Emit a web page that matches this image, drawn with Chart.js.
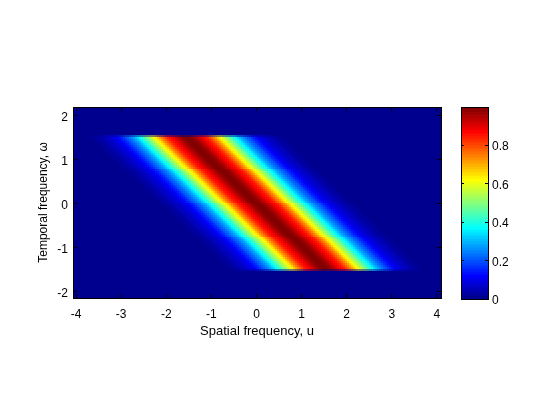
<!DOCTYPE html>
<html>
<head>
<meta charset="utf-8">
<title>Spatial / temporal frequency</title>
<script src="https://cdn.jsdelivr.net/npm/chart.js@4/dist/chart.umd.min.js"></script>
<style>
  html, body { margin: 0; padding: 0; background: #fff; }
  #wrap { position: relative; width: 560px; height: 420px; overflow: hidden; }
  canvas { position: absolute; left: 0; top: 0; }
</style>
</head>
<body>
<div id="wrap">
  <canvas id="heat" width="560" height="420"></canvas>
  <canvas id="cbar" width="560" height="420"></canvas>
</div>
<script>
// ---------- data ----------
const xTicks = [-4, -3, -2, -1, 0, 1, 2, 3, 4];
const yTicks = [-2, -1, 0, 1, 2];
const cbarTicks = [0, 0.2, 0.4, 0.6, 0.8];
const xLabel = 'Spatial frequency, u';
const yLabel = 'Temporal frequency, \u03c9';

const xRange = [-4.069, 4.091];
const yRange = [-2.148, 2.193];
const cbarRange = [0, 0.998];

const nCols = 184;
const nRows = 96;
const firstBandRow = 14; // rows counted from the top, outside the band everything is 0
const edgeFade = 0.5;    // first and last band rows are soft in the picture

// column of the ridge on each row of the band
const ridgeColumn = [
  56, 57, 58, 59, 60, 61, 62, 63, 64, 65, 66, 67, 68, 69, 70, 71, 72,
  74, 75, 76, 77, 78, 79, 80, 81, 82, 83, 84, 85, 86, 87, 88, 89, 90,
  92, 93, 94, 95, 96, 97, 98, 99, 100, 101, 102, 103, 104, 105, 106, 107, 108,
  110, 111, 112, 113, 114, 115, 116, 117, 118, 119, 120, 121, 122, 123, 124, 125, 126
];

// value against distance from the ridge, in columns
const ridgeProfile = [
  1.00, 0.99, 0.98, 0.97, 0.95, 0.93, 0.91, 0.89, 0.87, 0.85, 0.83, 0.81, 0.78, 0.74,
  0.71, 0.67, 0.64, 0.60, 0.57, 0.53, 0.50, 0.46, 0.43, 0.40, 0.36, 0.33, 0.31, 0.28,
  0.25, 0.23, 0.21, 0.19, 0.17, 0.15, 0.13, 0.12, 0.10, 0.09, 0.08, 0.07, 0.06, 0.05,
  0.05, 0.04, 0.03, 0.03, 0.02, 0.02
];

// ---------- jet colormap, 64 steps ----------
function jetRgb(v) {
  const level = Math.min(63, Math.floor(v * 64));
  const t = (level + 1) / 64;
  const ch = (c) => Math.round(255 * Math.max(0, Math.min(1, 1.5 - Math.abs(4 * t - c))));
  return [ch(3), ch(2), ch(1)];
}
const jet = (v) => `rgb(${jetRgb(v).join(',')})`;

function fadedJet(v, fade) {
  const base = jetRgb(0);
  const rgb = jetRgb(v).map((c, i) => Math.round(base[i] + (c - base[i]) * fade));
  return `rgb(${rgb.join(',')})`;
}

const FONT = { family: "'Liberation Sans', Arial, sans-serif", size: 12 };

// ---------- heat map cells ----------
const cellPoints = [];
const cellColors = [];
const cellW = (xRange[1] - xRange[0]) / nCols;
const cellH = (yRange[1] - yRange[0]) * 2 / 191; // 2 px rows, the last one runs off the box
for (let r = 0; r < nRows; r++) {
  const b = r - firstBandRow;
  const ridge = ridgeColumn[b];
  const isEdge = b === 0 || b === ridgeColumn.length - 1;
  for (let c = 0; c < nCols; c++) {
    let v = 0;
    if (ridge !== undefined) {
      const p = ridgeProfile[Math.abs(c - ridge)];
      if (p !== undefined) v = p;
    }
    cellPoints.push({ x: xRange[0] + (c + 0.5) * cellW, y: yRange[1] - (r + 0.5) * cellH });
    cellColors.push(isEdge ? fadedJet(v, edgeFade) : jet(v));
  }
}

const setTicks = (list) => (scale) => { scale.ticks = list.map((v) => ({ value: v })); };

new Chart(document.getElementById('heat'), {
  type: 'scatter',
  data: {
    datasets: [{
      data: cellPoints,
      pointStyle: 'rect',
      pointRadius: Math.SQRT2,
      pointBorderWidth: 0,
      pointBackgroundColor: cellColors,
      xAxisID: 'x',
      yAxisID: 'y',
    }],
  },
  options: {
    responsive: false,
    animation: false,
    events: [],
    layout: { padding: { left: 36, right: 119, top: 107, bottom: 81 } },
    plugins: { legend: { display: false }, tooltip: { enabled: false } },
    scales: {
      x: {
        type: 'linear', position: 'bottom', min: xRange[0], max: xRange[1],
        afterBuildTicks: setTicks(xTicks),
        afterFit: (s) => { s.height = 41; },
        grid: { drawOnChartArea: false, tickLength: -4, color: '#000', z: 1 },
        border: { color: '#000', z: 1 },
        ticks: { color: '#000', font: FONT, padding: 13, maxRotation: 0, autoSkip: false, callback: (v) => String(v) },
        title: { display: true, text: xLabel, color: '#000', font: { family: FONT.family, size: 13 }, padding: { top: 4, bottom: 0 } },
      },
      x2: {
        type: 'linear', position: 'top', min: xRange[0], max: xRange[1],
        afterBuildTicks: setTicks(xTicks),
        afterFit: (s) => { s.height = 0; },
        grid: { drawOnChartArea: false, tickLength: -4, color: '#000', z: 1 },
        border: { color: '#000', z: 1 },
        ticks: { display: false },
      },
      y: {
        type: 'linear', position: 'left', min: yRange[0], max: yRange[1],
        afterBuildTicks: setTicks(yTicks),
        afterFit: (s) => { s.width = 37; },
        grid: { drawOnChartArea: false, tickLength: -4, color: '#000', z: 1 },
        border: { color: '#000', z: 1 },
        ticks: { color: '#000', font: FONT, padding: 9, labelOffset: 2, autoSkip: false, callback: (v) => String(v) },
        title: { display: true, text: yLabel, color: '#000', font: FONT, padding: { top: 0, bottom: 3 } },
      },
      y2: {
        type: 'linear', position: 'right', min: yRange[0], max: yRange[1],
        afterBuildTicks: setTicks(yTicks),
        afterFit: (s) => { s.width = 0; },
        grid: { drawOnChartArea: false, tickLength: -4, color: '#000', z: 1 },
        border: { color: '#000', z: 1 },
        ticks: { display: false },
      },
    },
  },
});

// ---------- colour bar ----------
const cbarSets = [];
for (let i = 0; i < 64; i++) {
  cbarSets.push({
    // the lowest bar starts under the axis so no white row shows at the bottom edge
    data: [[i === 0 ? -0.02 : i / 64, (i + 1) / 64]],
    backgroundColor: jet((i + 0.5) / 64),
    barPercentage: 1,
    categoryPercentage: 1,
    grouped: false,
  });
}

new Chart(document.getElementById('cbar'), {
  type: 'bar',
  data: { labels: [''], datasets: cbarSets },
  options: {
    responsive: false,
    animation: false,
    events: [],
    layout: { padding: { left: 461, right: 33, top: 107, bottom: 121 } },
    plugins: { legend: { display: false }, tooltip: { enabled: false } },
    scales: {
      x: {
        display: true,
        afterFit: (s) => { s.height = 0; },
        grid: { display: false },
        border: { color: '#000', z: 1 },
        ticks: { display: false },
      },
      y: {
        type: 'linear', position: 'right', min: cbarRange[0], max: cbarRange[1],
        afterBuildTicks: setTicks(cbarTicks),
        afterFit: (s) => { s.width = 39; },
        grid: { drawOnChartArea: false, tickLength: -3, color: '#000', z: 1 },
        border: { color: '#000', z: 1 },
        ticks: { color: '#000', font: FONT, padding: 7, labelOffset: 2, autoSkip: false, callback: (v) => String(v) },
      },
      y2: {
        type: 'linear', position: 'left', min: cbarRange[0], max: cbarRange[1],
        afterBuildTicks: setTicks(cbarTicks),
        afterFit: (s) => { s.width = 0; },
        grid: { drawOnChartArea: false, tickLength: -3, color: '#000', z: 1 },
        border: { color: '#000', z: 1 },
        ticks: { display: false },
      },
      x2: {
        type: 'linear', position: 'top', min: 0, max: 1,
        afterBuildTicks: (s) => { s.ticks = []; },
        afterFit: (s) => { s.height = 0; },
        grid: { display: false },
        border: { color: '#000', z: 1 },
        ticks: { display: false },
      },
    },
  },
});
</script>
</body>
</html>
